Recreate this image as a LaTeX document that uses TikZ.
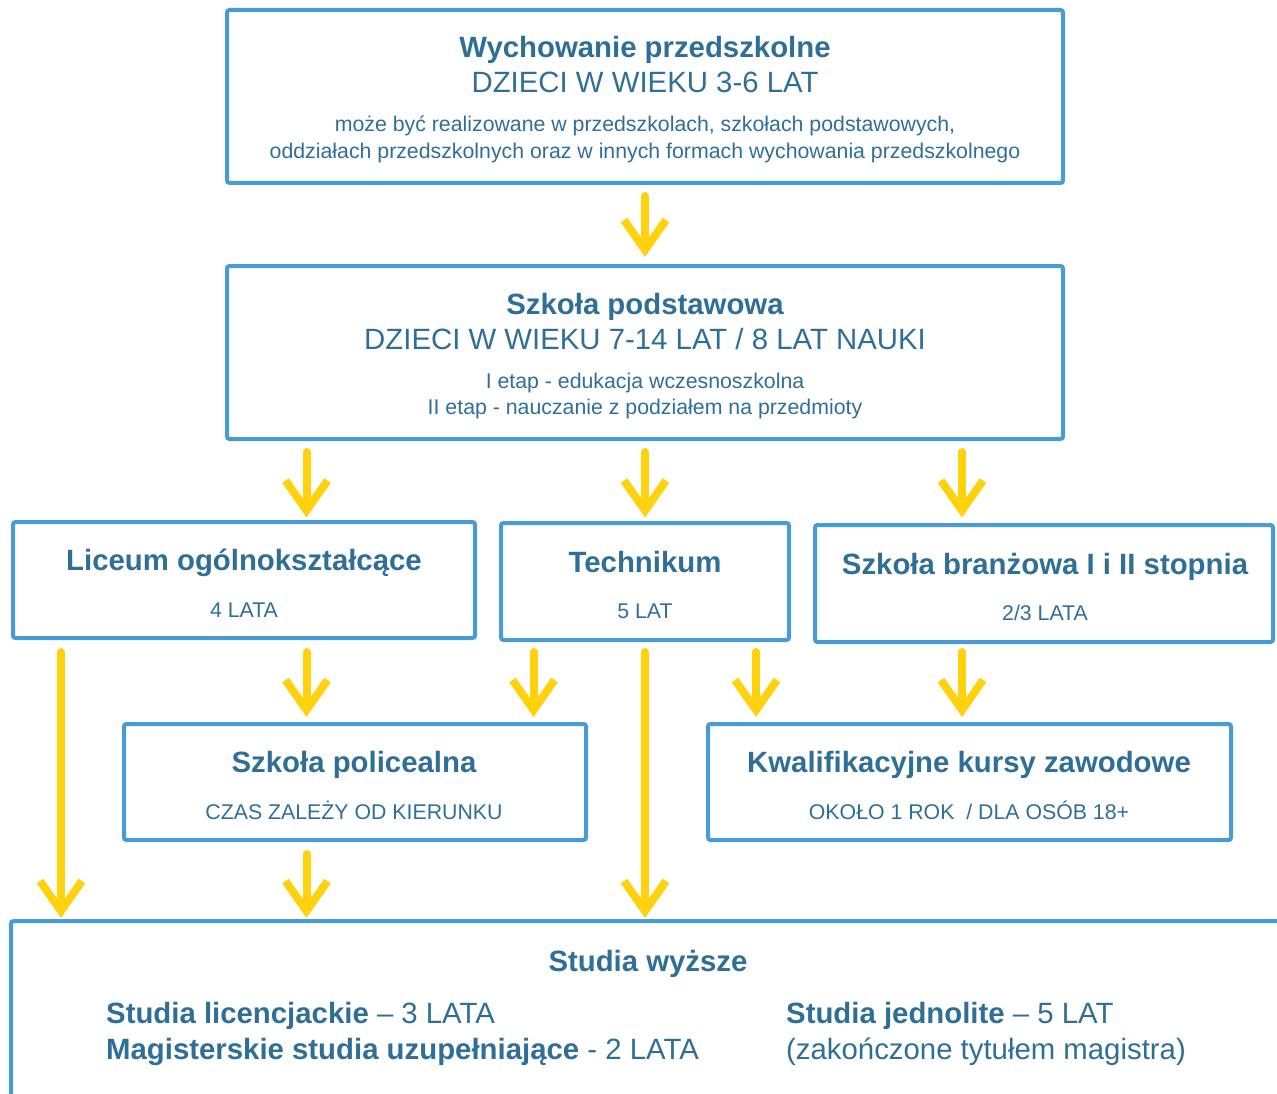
\documentclass[tikz,border=0pt]{standalone}
\usepackage{fontspec}
\setmainfont{Liberation Sans}
\usetikzlibrary{arrows.meta}
\definecolor{boxblue}{RGB}{72,155,214}
\definecolor{txtblue}{RGB}{47,111,151}
\definecolor{arryel}{RGB}{255,210,13}
\begin{document}
\begin{tikzpicture}[x=1pt,y=-1pt,
  boxnode/.style={draw=boxblue,line width=4pt,rounded corners=2.5pt,inner sep=0pt,outer sep=0pt},
  ttl/.style={text=txtblue,font=\bfseries\fontsize{29.35}{34}\selectfont,anchor=base,inner sep=0pt},
  sub/.style={text=txtblue,font=\fontsize{29.35}{34}\selectfont,anchor=base,inner sep=0pt},
  sml/.style={text=txtblue,font=\fontsize{21.3}{25}\selectfont,anchor=base,inner sep=0pt},
  lft/.style={text=txtblue,font=\fontsize{29.35}{34}\selectfont,anchor=base west,inner sep=0pt},
  arr/.style={draw=arryel,line width=8pt,line cap=round,-{Straight Barb[length=30pt,width=42pt]}}]
\useasboundingbox (0,0) rectangle (1277,1094);
% boxes
\node[boxnode,minimum width=836pt,minimum height=173pt] (b1) at (645,96.5) {};
\node[boxnode,minimum width=836pt,minimum height=173pt] (b2) at (645,352.5) {};
\node[boxnode,minimum width=462pt,minimum height=116pt] (lic) at (244,580) {};
\node[boxnode,minimum width=288pt,minimum height=117pt] (tech) at (645,581.5) {};
\node[boxnode,minimum width=458pt,minimum height=117pt] (bran) at (1044,583.5) {};
\node[boxnode,minimum width=462pt,minimum height=116pt] (pol) at (355,782) {};
\node[boxnode,minimum width=523pt,minimum height=116pt] (kw) at (969.5,782) {};
\node[boxnode,minimum width=1400pt,minimum height=200pt] (stud) at (711,1021) {};
% texts
\node[ttl] (t1a) at (645,58) {Wychowanie przedszkolne};
\node[sub] (t1b) at (645,93) {DZIECI W WIEKU 3-6 LAT};
\node[sml] (t1c) at (645,132) {może być realizowane w przedszkolach, szkołach podstawowych,};
\node[sml] (t1d) at (645,158.5) {oddziałach przedszkolnych oraz w innych formach wychowania przedszkolnego};
\node[ttl] (t2a) at (645,314) {Szkoła podstawowa};
\node[sub] (t2b) at (645,349) {DZIECI W WIEKU 7-14 LAT / 8 LAT NAUKI};
\node[sml] (t2c) at (645,388) {I etap - edukacja wczesnoszkolna};
\node[sml] (t2d) at (645,414) {II etap - nauczanie z podziałem na przedmioty};
\node[ttl] (t3a) at (244,570) {Liceum ogólnokształcące};
\node[sml] (t3b) at (244,617) {4 LATA};
\node[ttl] (t4a) at (645,572) {Technikum};
\node[sml] (t4b) at (645,618) {5 LAT};
\node[ttl] (t5a) at (1045,574.5) {Szkoła branżowa I i II stopnia};
\node[sml] (t5b) at (1045,620) {2/3 LATA};
\node[ttl] (t6a) at (354,772) {Szkoła policealna};
\node[sml] (t6b) at (354,819) {CZAS ZALEŻY OD KIERUNKU};
\node[ttl] (t7a) at (969,772) {Kwalifikacyjne kursy zawodowe};
\node[sml] (t7b) at (969,819) {OKOŁO 1 ROK\ \ / DLA OSÓB 18+};
\node[ttl] (t8a) at (648,971) {Studia wyższe};
\node[lft] (t8b) at (106,1023) {\textbf{Studia licencjackie} – 3 LATA};
\node[lft] (t8c) at (106,1059) {\textbf{Magisterskie studia uzupełniające} - 2 LATA};
\node[lft] (t8d) at (786,1023) {\textbf{Studia jednolite} – 5 LAT};
\node[lft] (t8e) at (786,1059) {(zakończone tytułem magistra)};
% columns
\coordinate (x61) at (61,0);
\coordinate (x306) at (306.5,0);
\coordinate (x534) at (533.5,0);
\coordinate (x645) at (645,0);
\coordinate (x756) at (756,0);
\coordinate (x962) at (962,0);
% arrows
\draw[arr,shorten <=13pt,shorten >=9pt] (b1.south) -- (b2.north);
\draw[arr,shorten <=13pt,shorten >=4.5pt] (b2.south -| x306) -- (lic.north -| x306);
\draw[arr,shorten <=13pt,shorten >=5.5pt] (b2.south -| x645) -- (tech.north -| x645);
\draw[arr,shorten <=13pt,shorten >=7.5pt] (b2.south -| x962) -- (bran.north -| x962);
\draw[arr,shorten <=14pt,shorten >=3pt] (lic.south -| x61) -- (stud.north -| x61);
\draw[arr,shorten <=14pt,shorten >=7pt] (lic.south -| x306) -- (pol.north -| x306);
\draw[arr,shorten <=12pt,shorten >=7pt] (tech.south -| x534) -- (pol.north -| x534);
\draw[arr,shorten <=12pt,shorten >=3pt] (tech.south -| x645) -- (stud.north -| x645);
\draw[arr,shorten <=12pt,shorten >=7pt] (tech.south -| x756) -- (kw.north -| x756);
\draw[arr,shorten <=10pt,shorten >=7pt] (bran.south -| x962) -- (kw.north -| x962);
\draw[arr,shorten <=14pt,shorten >=3pt] (pol.south -| x306) -- (stud.north -| x306);
\end{tikzpicture}
\end{document}
